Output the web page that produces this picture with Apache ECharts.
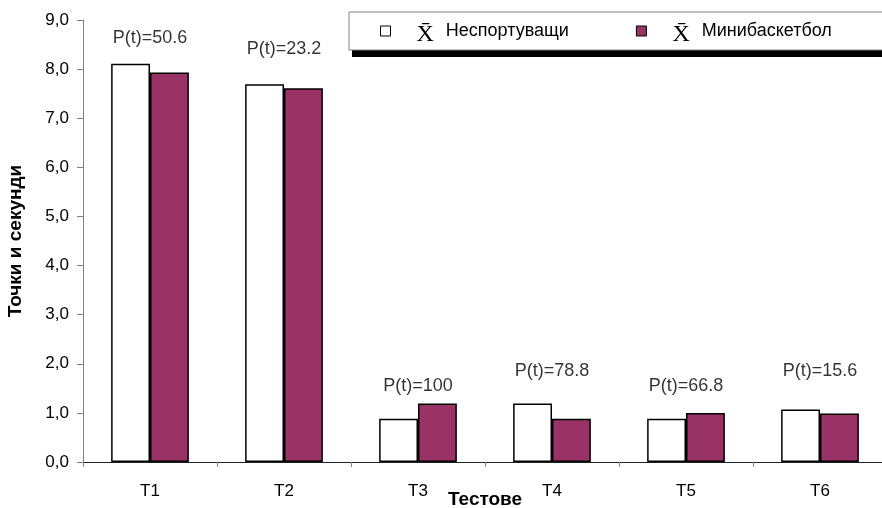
<!DOCTYPE html>
<html>
<head>
<meta charset="utf-8">
<script src="https://cdn.jsdelivr.net/npm/echarts@6/dist/echarts.min.js"></script>
<style>html,body{margin:0;padding:0;background:#fff;}#c{width:882px;height:508px;}</style>
</head>
<body>
<div id="c"></div>
<script>
var categories = ['T1', 'T2', 'T3', 'T4', 'T5', 'T6'];
var nonSporting = [8.11, 7.69, 0.88, 1.19, 0.88, 1.07];
var miniBasketball = [7.93, 7.61, 1.19, 0.88, 1.00, 0.99];
var pValues = ['50.6', '23.2', '100', '78.8', '66.8', '15.6'];
var yTicks = [0, 1, 2, 3, 4, 5, 6, 7, 8, 9];
var seriesNames = ['Неспортуващи', 'Минибаскетбол'];

// layout only: how far above the taller bar each P(t) label sits (axis units)
var labelLift = [0.52, 0.72, 0.35, 0.66, 0.54, 0.78];
var labelPoints = categories.map(function (c, i) {
  return [c, Math.max(nonSporting[i], miniBasketball[i]) + labelLift[i]];
});

var FONT = 'Liberation Sans, Arial, sans-serif';
var chart = echarts.init(document.getElementById('c'), null, {renderer: 'canvas'});
chart.setOption({
  animation: false,
  backgroundColor: '#fff',
  grid: {left: 83, top: 20, bottom: 46, width: 804, containLabel: false, outerBoundsMode: 'none'},
  graphic: [
    {type: 'rect', z: 0, zlevel: 0, silent: true,
     shape: {x: 352, y: 20, width: 600, height: 37},
     style: {fill: '#000'}}
  ],
  legend: {
    data: seriesNames,
    left: 349, top: 12,
    width: 800,
    z: 10,
    orient: 'horizontal',
    padding: [3, 120, 3, 31],
    itemGap: 67,
    itemWidth: 10, itemHeight: 10,
    icon: 'rect',
    backgroundColor: '#fff',
    borderColor: '#808080', borderWidth: 1,
    itemStyle: {borderColor: '#000', borderWidth: 1},
    formatter: function (name) { return '{x|X\u0304}{n|' + name + '}'; },
    textStyle: {
      fontFamily: FONT, fontSize: 18, color: '#000',
      rich: {
        x: {fontFamily: 'Liberation Serif, Times New Roman, serif', fontSize: 24, lineHeight: 28, padding: [8, 12, 0, 21], color: '#000'},
        n: {fontFamily: FONT, fontSize: 18, lineHeight: 28, color: '#000'}
      }
    }
  },
  xAxis: {
    type: 'category',
    data: categories,
    name: 'Тестове',
    nameLocation: 'middle',
    nameGap: 28,
    nameMoveOverlap: false,
    nameTextStyle: {fontFamily: FONT, fontSize: 19, fontWeight: 'bold', color: '#000'},
    axisLine: {lineStyle: {color: '#222', width: 1}},
    axisTick: {show: true, length: 5, lineStyle: {color: '#808080'}},
    axisLabel: {margin: 21, fontFamily: FONT, fontSize: 17, color: '#000'}
  },
  yAxis: {
    type: 'value',
    min: yTicks[0], max: yTicks[yTicks.length - 1], interval: 1,
    name: 'Точки и секунди',
    nameLocation: 'middle',
    nameGap: 58,
    nameMoveOverlap: false,
    nameTextStyle: {fontFamily: FONT, fontSize: 19, fontWeight: 'bold', color: '#000'},
    axisLine: {show: true, lineStyle: {color: '#808080', width: 1}},
    axisTick: {show: true, length: 6, lineStyle: {color: '#808080'}},
    splitLine: {show: false},
    axisLabel: {
      margin: 14, fontFamily: FONT, fontSize: 17, color: '#000',
      formatter: function (v) { return v.toFixed(1).replace('.', ','); }
    }
  },
  series: [
    {
      name: seriesNames[0], type: 'bar', data: nonSporting,
      barGap: '0%', barCategoryGap: '42%',
      itemStyle: {color: '#ffffff', borderColor: '#000', borderWidth: 1.5}
    },
    {
      name: seriesNames[1], type: 'bar', data: miniBasketball,
      itemStyle: {color: '#993366', borderColor: '#000', borderWidth: 1.5}
    },
    {
      name: 'pLabels', type: 'scatter', data: labelPoints,
      symbolSize: 0, silent: true, z: 10,
      label: {
        show: true, position: 'inside', fontFamily: FONT, fontSize: 18, color: '#000',
        formatter: function (p) { return 'P(t)=' + pValues[p.dataIndex]; }
      }
    }
  ]
});
</script>
</body>
</html>
